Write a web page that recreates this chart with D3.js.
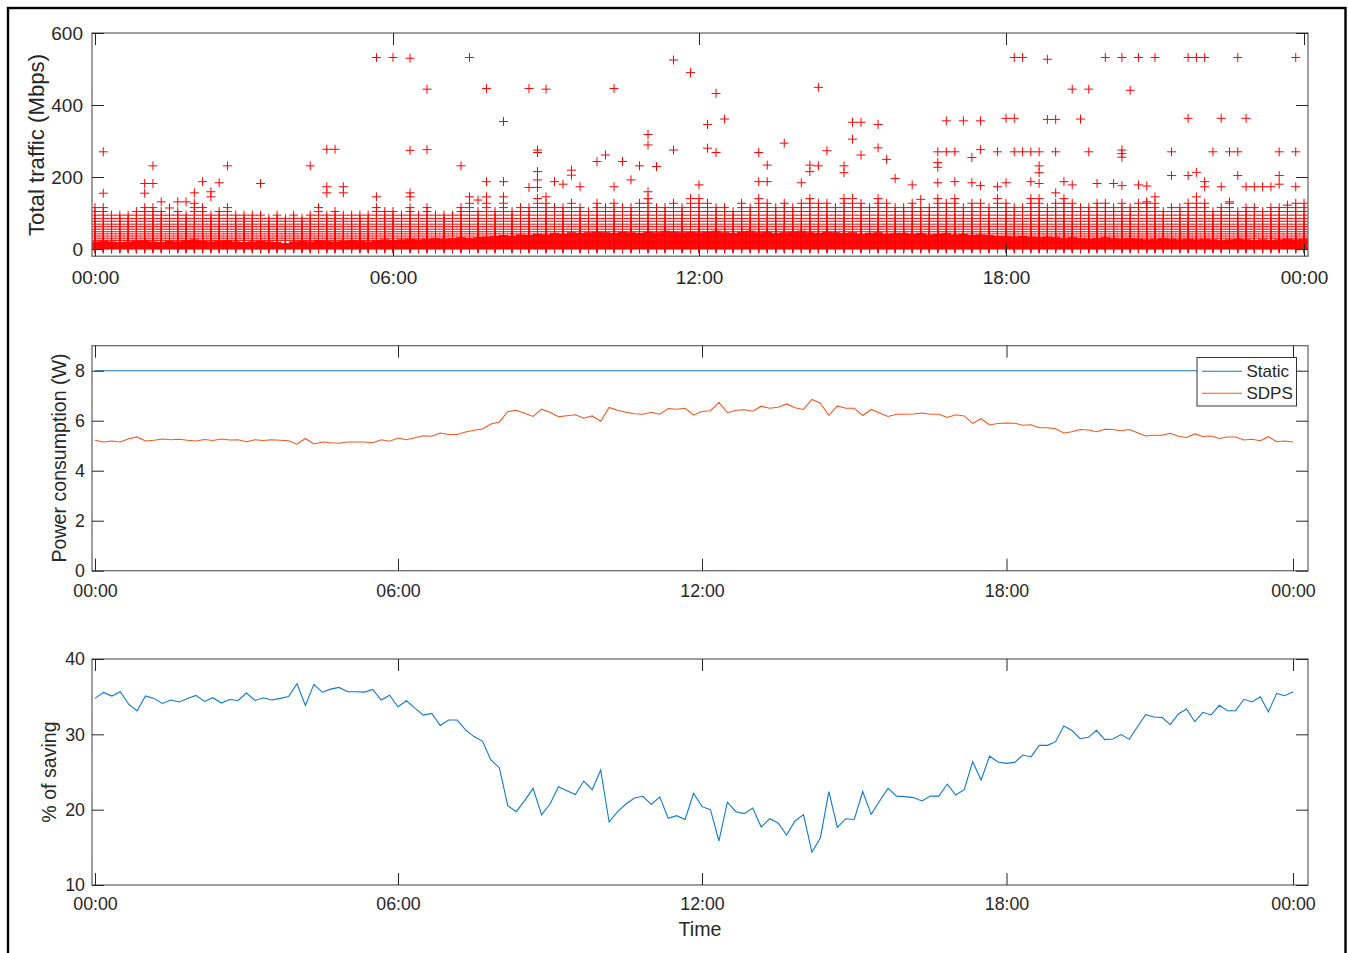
<!DOCTYPE html>
<html><head><meta charset="utf-8">
<script src="https://cdn.jsdelivr.net/npm/d3@7"></script>
<style>
body{margin:0;background:#fff}
text{font-family:"Liberation Sans",Arial,Helvetica,sans-serif;fill:#262626}
</style>
</head><body>
<svg id="chart" width="1348" height="953"></svg>
<script>
// ---------------- DATA ----------------
const timeTickLabels = ["00:00","06:00","12:00","18:00","00:00"];
const trafficTickHours = [0,6,12,18,24];
const lineTickHours = [0,6,12,18,23+50/60];
const sampleMinutes = 10;

const trafficYTicks = [0,200,400,600];
const powerYTicks = [0,2,4,6,8];
const savingYTicks = [10,20,30,40];

// closely packed low traffic values (Mbps) forming the solid core of the cloud
const trafficCoreLevels = [0,1.5,3,4.5,6,7.5,9,10.5,12,13.5,15,16.5,18,19.5,21,22.5,24,25.5,27,28.5,30,31.5,33,34.5,36,37.5,39,40.5,42,43.5,45,46.5,48,49.5,51];
// top of the solid core per 10-minute slot (145 slots, 00:00 .. 24:00)
const trafficCoreTop = [
20,22,20,18,20,22,24,20,18,22,20,24,26,22,20,22,24,20,18,20,22,20,18,16,20,22,20,24,22,20,22,24,22,20,24,26,
24,26,28,26,28,30,28,30,32,30,32,34,
36,38,36,40,38,42,40,44,42,46,44,46,48,46,44,48,46,44,48,46,50,48,46,48,
46,48,50,46,44,48,50,46,48,44,46,48,50,46,44,48,46,44,46,42,44,46,42,44,
44,42,44,40,42,44,40,42,38,40,38,36,
36,34,36,34,32,34,32,30,32,30,28,30,32,30,28,30,28,26,28,30,28,26,28,26,28,26,24,26,28,26,24,26,24,26,28,26,28
];
// sparser traffic values above the core
const trafficHatchLevels = [24,30,36,42,48,55,62,69,77,85,94,104,115,127,140];
// top of the hatched band per slot
const trafficColumnTop = [
115,122,100,100,95,110,122,125,112,100,
112,100,135,122,100,112,120,100,100,95,
100,92,100,92,95,90,100,122,100,105,
100,100,95,100,120,112,112,100,122,100,
120,100,95,
100,120,135,110,130,110,130,105,115,120,
140,130,120,125,130,120,110,130,120,130,
125,120,130,140,125,120,130,115,140,140,
130,125,120,110,130,125,140,135,125,130,
120,130,140,135,130,125,140,140,130,125,
140,130,125,125,
130,125,120,145,130,140,120,130,135,120,
140,135,125,120,140,140,125,130,140,130,
125,120,135,130,125,135,115,130,130,130,
110,125,115,130,135,130,110,125,130,110,
120,115,110,125,120,125,130,130
];
// isolated high-traffic markers: [slot, Mbps]
const trafficOutliers = [
[1,270],[1,155],[6,182],[6,155],[7,231],[7,182],[8,131],[9,114],[10,131],[11,131],[12,156],[13,187],[14,159],[14,145],[15,184],[16,231],[20,182],[26,231],[28,277],[28,173],[28,156],[29,277],[30,173],[30,156],[34,532],[34,145],[36,532],[38,530],[38,274],[38,156],[38,145],[40,444],[40,276],
[44,231],[45,532],[45,145],[46,136],[47,446],[47,187],[47,145],[49,354],[49,187],[49,145],[52,446],[52,171],[53,275],[53,268],[53,215],[53,192],[53,171],[54,444],[54,145],[55,187],[56,180],[57,219],[57,205],[58,173],[60,243],[61,261],[62,446],[62,173],[63,243],[64,192],[65,231],[66,318],[66,289],[66,159],[67,229],[69,525],[69,275],[71,490],[72,178],[73,346],[73,280],[74,432],[74,268],[75,361],[79,268],[79,187],[80,233],[80,187],[82,294],[84,184],[85,233],[85,215],[86,449],[86,231],[87,273],[89,231],[89,212],[90,352],[90,305],[91,352],[91,261],[93,346],[93,281],[94,249],[95,196],
[97,178],[98,138],[100,270],[100,240],[100,227],[100,184],[101,356],[101,270],[102,270],[102,187],[103,356],[104,254],[104,184],[105,356],[105,276],[105,176],[107,270],[107,173],[108,363],[108,184],[109,532],[109,363],[109,270],[110,532],[110,270],[111,270],[111,187],[112,270],[112,231],[112,212],[112,182],[113,527],[113,360],[114,360],[114,270],[114,156],[115,187],[116,444],[116,178],[117,361],[118,444],[118,270],[119,182],[120,532],[121,182],[122,532],[122,275],[122,265],[122,255],[122,176],[123,441],[124,532],[124,178],[125,175],[125,131],[126,532],[126,145],[128,270],[128,204],[130,532],[130,363],[130,204],[131,532],[131,213],[131,145],[132,532],[132,187],[132,173],[133,270],[134,363],[134,173],[135,270],[135,131],[136,532],[136,270],[136,204],[137,363],[137,173],[138,173],[139,173],[140,173],[141,270],[141,204],[141,180],[142,122],[143,532],[143,270],[143,173]
];

// power consumption (W), 144 samples every 10 minutes
const staticPower = [
8,8,8,8,8,8,8,8,8,8,8,8,
8,8,8,8,8,8,8,8,8,8,8,8,
8,8,8,8,8,8,8,8,8,8,8,8,
8,8,8,8,8,8,8,8,8,8,8,8,
8,8,8,8,8,8,8,8,8,8,8,8,
8,8,8,8,8,8,8,8,8,8,8,8,
8,8,8,8,8,8,8,8,8,8,8,8,
8,8,8,8,8,8,8,8,8,8,8,8,
8,8,8,8,8,8,8,8,8,8,8,8,
8,8,8,8,8,8,8,8,8,8,8,8,
8,8,8,8,8,8,8,8,8,8,8,8,
8,8,8,8,8,8,8,8,8,8,8,8
];
const sdpsPower = [
5.22,5.15,5.19,5.15,5.28,5.35,5.19,5.22,5.27,5.24,5.26,5.22,
5.19,5.25,5.21,5.27,5.23,5.24,5.16,5.24,5.21,5.24,5.22,5.20,
5.06,5.29,5.07,5.15,5.12,5.10,5.15,5.15,5.15,5.12,5.24,5.18,
5.31,5.24,5.32,5.40,5.38,5.51,5.45,5.45,5.55,5.62,5.67,5.87,
5.95,6.36,6.42,6.30,6.17,6.46,6.34,6.16,6.20,6.24,6.10,6.19,
5.98,6.53,6.42,6.34,6.28,6.26,6.34,6.26,6.49,6.46,6.50,6.23,
6.37,6.40,6.73,6.32,6.42,6.44,6.38,6.58,6.50,6.54,6.67,6.52,
6.45,6.85,6.70,6.21,6.59,6.50,6.50,6.21,6.45,6.31,6.17,6.26,
6.26,6.27,6.31,6.26,6.26,6.13,6.24,6.19,5.89,6.08,5.83,5.89,
5.91,5.90,5.82,5.84,5.72,5.72,5.68,5.51,5.56,5.65,5.63,5.56,
5.66,5.65,5.60,5.65,5.52,5.39,5.42,5.42,5.50,5.38,5.33,5.47,
5.37,5.39,5.29,5.35,5.35,5.23,5.26,5.20,5.36,5.16,5.19,5.15
];
// % of saving, 144 samples
const savingPct = [
34.77,35.57,35.08,35.65,34.0,33.1,35.1,34.77,34.1,34.55,34.3,34.77,
35.17,34.37,34.86,34.15,34.63,34.5,35.48,34.5,34.86,34.55,34.77,35.03,
36.72,33.84,36.63,35.6,36.0,36.23,35.65,35.65,35.6,35.96,34.55,35.2,
33.66,34.46,33.48,32.55,32.77,31.18,31.9,31.9,30.58,29.7,29.1,26.6,
25.57,20.53,19.73,21.2,22.83,19.3,20.75,23.05,22.5,22.0,23.8,22.65,
25.27,18.36,19.73,20.75,21.55,21.77,20.7,21.7,18.85,19.2,18.7,22.17,
20.4,20.0,15.84,21.0,19.73,19.47,20.22,17.7,18.8,18.23,16.64,18.5,
19.34,14.34,16.28,22.4,17.65,18.8,18.7,22.4,19.38,21.15,22.83,21.8,
21.73,21.6,21.15,21.8,21.8,23.4,21.95,22.65,26.37,23.94,27.1,26.33,
26.15,26.28,27.25,27.0,28.54,28.54,29.03,31.1,30.5,29.42,29.6,30.53,
29.3,29.38,29.96,29.33,31.0,32.6,32.3,32.25,31.28,32.7,33.36,31.68,
32.92,32.57,33.85,33.14,33.14,34.65,34.3,35.0,33.0,35.44,35.13,35.66
];
const legendNames = ["Static","SDPS"];

// ---------------- STYLE / LAYOUT ----------------
const C_BLUE = "#0f78cf", C_ORANGE = "#f5561f", C_RED = "#ff0000";
const BOX = "#6a6a6a", TICK = "#262626";
const svg = d3.select("#chart");

// outer frame
svg.append("rect").attr("x",8).attr("y",8).attr("width",1337.5).attr("height",980)
  .attr("fill","none").attr("stroke","#000").attr("stroke-width",2.4);

function panel(o){
  const g = svg.append("g");
  const x = d3.scaleLinear().domain(o.xTicks).range(o.xPos);
  const y = d3.scaleLinear().domain(o.yDom).range([o.bottom,o.top]);
  const id = "clip"+o.name;
  svg.append("clipPath").attr("id",id).append("rect")
    .attr("x",o.left).attr("y",o.top).attr("width",o.right-o.left).attr("height",o.bottom-o.top);
  const plot = g.append("g").attr("clip-path",`url(#${id})`);
  o.draw(plot,x,y);
  g.append("rect").attr("x",o.left).attr("y",o.top).attr("width",o.right-o.left).attr("height",o.bottom-o.top)
    .attr("fill","none").attr("stroke",BOX).attr("stroke-width",1.3);
  const style = (a)=>{ a.select(".domain").remove(); a.selectAll(".tick line").attr("stroke",TICK);
    a.selectAll("text").attr("font-size",o.fs).attr("fill","#262626")
     .style("font-family","'Liberation Sans',Arial,sans-serif"); };
  g.append("g").attr("transform",`translate(0,${o.bottom})`)
    .call(d3.axisBottom(x).tickValues(o.xTicks).tickFormat((d,i)=>timeTickLabels[i]).tickSizeInner(-12).tickSizeOuter(0).tickPadding(o.xPad))
    .call(style);
  g.append("g").attr("transform",`translate(0,${o.top})`)
    .call(d3.axisTop(x).tickValues(o.xTicks).tickFormat("").tickSizeInner(-12).tickSizeOuter(0)).call(style);
  g.append("g").attr("transform",`translate(${o.left},0)`)
    .call(d3.axisLeft(y).tickValues(o.yTicks).tickSizeInner(-12).tickSizeOuter(0).tickPadding(o.yPad)).call(style);
  g.append("g").attr("transform",`translate(${o.right},0)`)
    .call(d3.axisRight(y).tickValues(o.yTicks).tickFormat("").tickSizeInner(-12).tickSizeOuter(0)).call(style);
  g.append("text").attr("transform",`translate(${o.labX},${o.labY}) rotate(-90)`)
    .attr("text-anchor","middle").attr("dy","0.35em").attr("font-size",o.lfs).text(o.label);
  return {x,y,g};
}

// Panel 1: traffic scatter
const markers = [];
trafficCoreTop.forEach((top,c)=>{
  trafficCoreLevels.forEach(v=>{ if(v<=top) markers.push({t:c*sampleMinutes/60, v}); });
});
trafficColumnTop.forEach((top,c)=>{
  trafficHatchLevels.forEach(v=>{ if(v<=top && v>trafficCoreTop[c]) markers.push({t:c*sampleMinutes/60, v}); });
});
trafficOutliers.forEach(([c,v])=>markers.push({t:c*sampleMinutes/60, v}));

panel({name:"a", left:92, right:1308, top:33, bottom:256.2,
  xTicks:trafficTickHours, xPos:[95,393,699,1006,1304],
  yDom:[-20,600], yTicks:trafficYTicks, fs:19, lfs:22.2, xPad:14, yPad:9,
  label:"Total traffic (Mbps)", labX:36, labY:145,
  draw:(p,x,y)=>{
    p.selectAll("path.m").data(markers).join("path").attr("class","m")
      .attr("d","M-4.5,0H4.5M0,-4.5V4.5")
      .attr("transform",d=>`translate(${x(d.t)},${y(d.v)})`)
      .attr("stroke",C_RED).attr("stroke-width",1).attr("fill","none");
  }});

// Panel 2: power consumption
panel({name:"b", left:92, right:1308, top:345.7, bottom:570.7,
  xTicks:lineTickHours, xPos:[95,398,702,1006.5,1293],
  yDom:[0,9], yTicks:powerYTicks, fs:17.8, lfs:19.6, xPad:14, yPad:7,
  label:"Power consumption (W)", labX:59.5, labY:458,
  draw:(p,x,y)=>{
    const line = d3.line().x((d,i)=>x(i*sampleMinutes/60)).y(d=>y(d));
    p.append("path").datum(staticPower).attr("d",line).attr("fill","none").attr("stroke",C_BLUE).attr("stroke-width",1.1);
    p.append("path").datum(sdpsPower).attr("d",line).attr("fill","none").attr("stroke",C_ORANGE).attr("stroke-width",1.1);
  }});
const lg = svg.append("g");
lg.append("rect").attr("x",1197).attr("y",357.5).attr("width",99.5).attr("height",48.5)
  .attr("fill","#fff").attr("stroke","#333").attr("stroke-width",1);
legendNames.forEach((n,i)=>{
  const yy = 371.3 + i*22;
  lg.append("line").attr("x1",1202).attr("x2",1242).attr("y1",yy).attr("y2",yy)
    .attr("stroke",i===0?C_BLUE:C_ORANGE).attr("stroke-width",1.1);
  lg.append("text").attr("x",1246.5).attr("y",yy).attr("dy","0.35em").attr("font-size",17).text(n);
});

// Panel 3: % of saving
panel({name:"c", left:92, right:1308, top:659, bottom:885,
  xTicks:lineTickHours, xPos:[95,398,702,1006.5,1293],
  yDom:[10,40], yTicks:savingYTicks, fs:17.8, lfs:19.6, xPad:12.7, yPad:7,
  label:"% of saving", labX:49.5, labY:772,
  draw:(p,x,y)=>{
    const line = d3.line().x((d,i)=>x(i*sampleMinutes/60)).y(d=>y(d));
    p.append("path").datum(savingPct).attr("d",line).attr("fill","none").attr("stroke",C_BLUE).attr("stroke-width",1.1);
  }});
svg.append("text").attr("x",700).attr("y",929).attr("dy","0.36em").attr("text-anchor","middle")
  .attr("font-size",19.6).text("Time");
</script>
</body></html>
